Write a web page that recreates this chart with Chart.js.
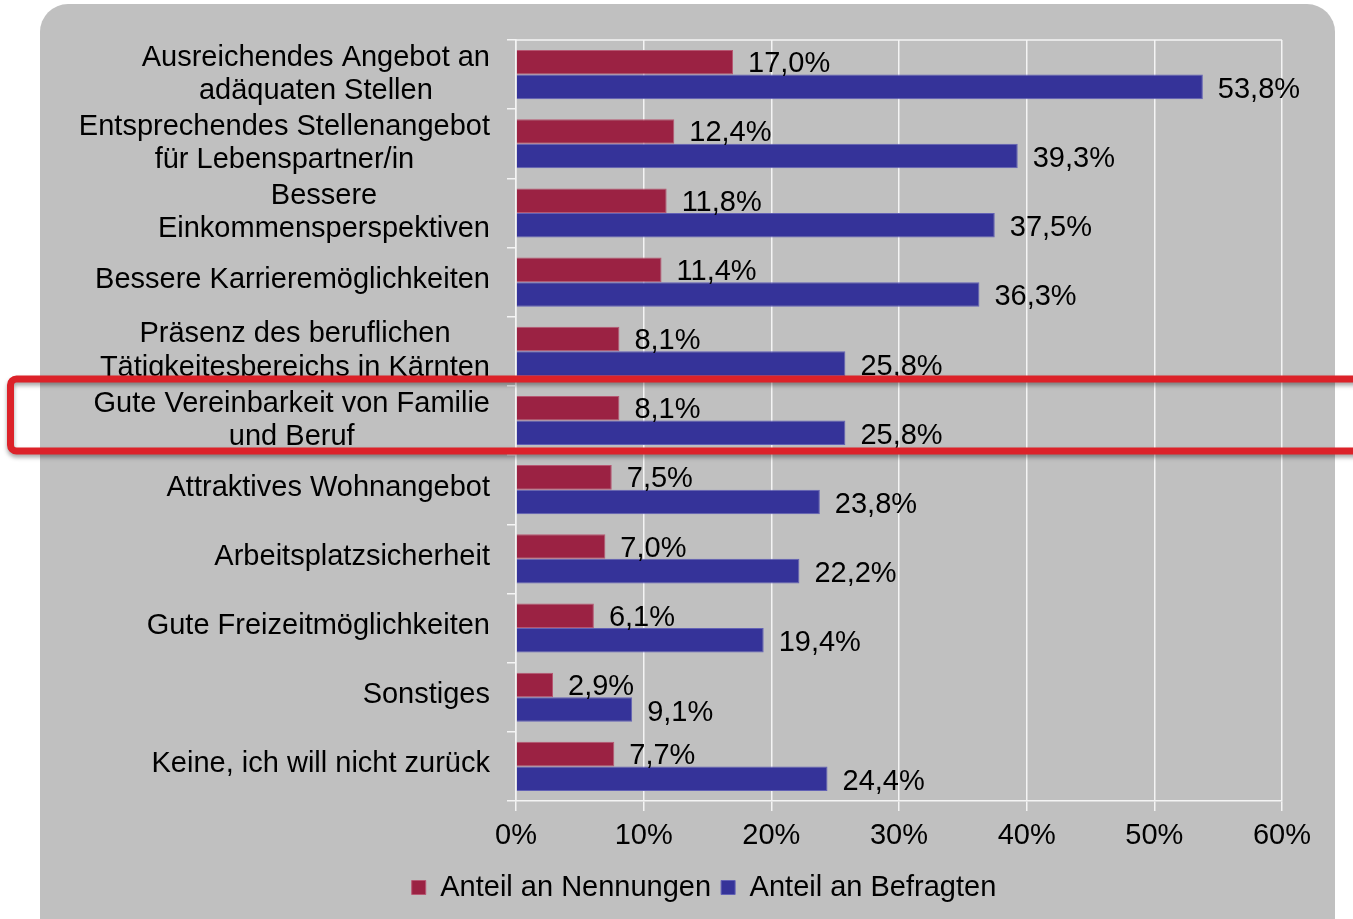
<!DOCTYPE html>
<html>
<head>
<meta charset="utf-8">
<script src="https://cdn.jsdelivr.net/npm/chart.js@4.4.1/dist/chart.umd.min.js"></script>
<style>
body { margin: 0; background: #fff; }
#wrap { width: 1353px; height: 919px; position: relative; }
</style>
</head>
<body>
<div id="wrap"><canvas id="myCanvas"></canvas></div>
<script>
const categories = [
    ["Ausreichendes Angebot an", "adäquaten Stellen"],
    ["Entsprechendes Stellenangebot", "für Lebenspartner/in"],
    ["Bessere", "Einkommensperspektiven"],
    "Bessere Karrieremöglichkeiten",
    ["Präsenz des beruflichen", "Tätigkeitesbereichs in Kärnten"],
    ["Gute Vereinbarkeit von Familie", "und Beruf"],
    "Attraktives Wohnangebot",
    "Arbeitsplatzsicherheit",
    "Gute Freizeitmöglichkeiten",
    "Sonstiges",
    "Keine, ich will nicht zurück"
];
const nennungen = [17.0, 12.4, 11.8, 11.4, 8.1, 8.1, 7.5, 7.0, 6.1, 2.9, 7.7];
const befragten = [53.8, 39.3, 37.5, 36.3, 25.8, 25.8, 23.8, 22.2, 19.4, 9.1, 24.4];
const seriesNames = ["Anteil an Nennungen", "Anteil an Befragten"];
const highlightIndex = 5;

const FONT = "'Liberation Sans', Arial, sans-serif";
const FSIZE = 29;
const myCanvas = document.getElementById("myCanvas");

function fmt(v) {
    return v.toFixed(1).replace(".", ",") + "%";
}

// grey rounded panel behind everything
const panelPlugin = {
    id: "panel",
    beforeDraw(chart) {
        const ctx = chart.ctx;
        ctx.save();
        ctx.fillStyle = "#ffffff";
        ctx.fillRect(0, 0, chart.width, chart.height);
        ctx.fillStyle = "#c0c0c0";
        ctx.beginPath();
        ctx.roundRect(40, 4, 1295, 960, 28);
        ctx.fill();
        ctx.restore();
    },
    beforeDatasetsDraw(chart) {
        // top border of plot area
        const a = chart.chartArea;
        const ctx = chart.ctx;
        ctx.save();
        ctx.strokeStyle = "#f4f4f4";
        ctx.lineWidth = 1.5;
        ctx.beginPath();
        ctx.moveTo(a.left, a.top);
        ctx.lineTo(a.right, a.top);
        ctx.stroke();
        ctx.restore();
    }
};

// category labels: right-aligned block, lines centred inside the block
const labelPlugin = {
    id: "catLabels",
    afterDraw(chart) {
        const ctx = chart.ctx;
        const y = chart.scales.y;
        const rightX = chart.chartArea.left - 26;
        ctx.save();
        ctx.font = FSIZE + "px " + FONT;
        ctx.fillStyle = "#000";
        ctx.textBaseline = "middle";
        categories.forEach((lab, i) => {
            const cy = y.getPixelForValue(i);
            const lines = Array.isArray(lab) ? lab : [lab];
            if (lines.length === 1) {
                ctx.textAlign = "right";
                ctx.fillText(lines[0], rightX, cy - 2);
            } else {
                const w = Math.max(...lines.map(l => ctx.measureText(l).width));
                ctx.textAlign = "center";
                lines.forEach((l, k) => {
                    ctx.fillText(l, rightX - w / 2, cy - 17 + k * 33.5);
                });
            }
        });
        ctx.restore();
    }
};

// value labels next to the bars
const valuePlugin = {
    id: "values",
    afterDatasetsDraw(chart) {
        const ctx = chart.ctx;
        ctx.save();
        ctx.font = FSIZE + "px " + FONT;
        ctx.fillStyle = "#000";
        ctx.textAlign = "left";
        ctx.textBaseline = "middle";
        chart.data.datasets.forEach((ds, d) => {
            chart.getDatasetMeta(d).data.forEach((bar, i) => {
                ctx.fillText(fmt(ds.data[i]), bar.x + 15, bar.y + (d === 0 ? 2 : 3));
            });
        });
        ctx.restore();
    }
};

// red frame around the highlighted row
const highlightPlugin = {
    id: "highlight",
    afterDraw(chart) {
        const ctx = chart.ctx;
        const y = chart.scales.y;
        const cy = y.getPixelForValue(highlightIndex);
        ctx.save();
        ctx.strokeStyle = "#dc2229";
        ctx.lineWidth = 7;
        ctx.shadowColor = "rgba(0,0,0,0.35)";
        ctx.shadowBlur = 4;
        ctx.shadowOffsetY = 3;
        ctx.beginPath();
        ctx.roundRect(10.5, cy - 41.5, 1400, 72, 6);
        ctx.stroke();
        ctx.restore();
    }
};

const gChart = new Chart(myCanvas, {
    type: "bar",
    data: {
        labels: categories,
        datasets: [{
            label: seriesNames[0],
            data: nennungen,
            backgroundColor: "#9b2243",
            borderColor: "#b65772",
            borderWidth: 1
        }, {
            label: seriesNames[1],
            data: befragten,
            backgroundColor: "#353399",
            borderColor: "#6261b5",
            borderWidth: 1
        }]
    },
    options: {
        indexAxis: "y",
        responsive: true,
        maintainAspectRatio: false,
        animation: false,
        categoryPercentage: 0.71,
        barPercentage: 1.0,
        layout: {
            padding: { top: 40, right: 71, bottom: 7, left: 126 }
        },
        scales: {
            x: {
                min: 0,
                max: 60,
                ticks: {
                    stepSize: 10,
                    color: "#000",
                    padding: 8,
                    font: { family: FONT, size: FSIZE },
                    callback: v => v + "%"
                },
                grid: {
                    color: "#f4f4f4",
                    lineWidth: 1.5,
                    tickLength: 10
                },
                border: { color: "#f4f4f4", width: 1.5 },
                afterFit: s => { s.height = 62; }
            },
            y: {
                ticks: { display: false },
                grid: {
                    color: "#f4f4f4",
                    lineWidth: 1.5,
                    drawOnChartArea: false,
                    tickLength: 9
                },
                border: { color: "#f4f4f4", width: 1.5 },
                afterFit: s => { s.width = 390; }
            }
        },
        plugins: {
            legend: {
                display: true,
                position: "bottom",
                labels: {
                    color: "#000",
                    boxWidth: 14,
                    boxHeight: 14,
                    padding: 10,
                    font: { family: FONT, size: FSIZE }
                }
            },
            tooltip: { enabled: false }
        }
    },
    plugins: [panelPlugin, labelPlugin, valuePlugin, highlightPlugin]
});
</script>
</body>
</html>
